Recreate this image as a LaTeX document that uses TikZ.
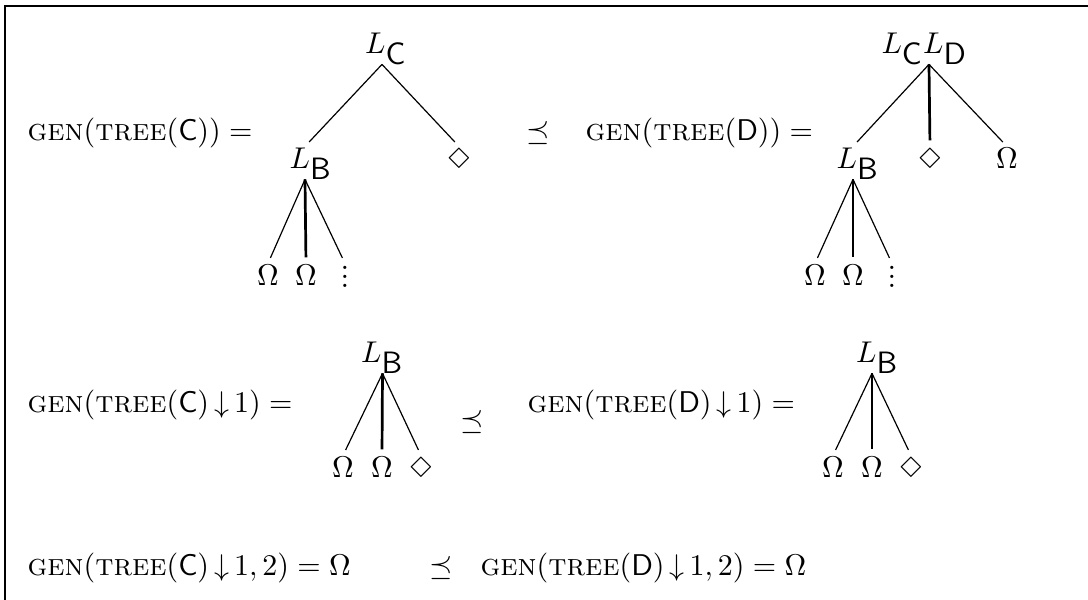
\documentclass[tikz,border=0pt]{standalone}
\usepackage{amssymb}
\usepackage{latexsym}
\usetikzlibrary{calc}
\newcommand{\sfl}[1]{L_{\mbox{\sffamily #1}}}
\newcommand{\dn}{\,{\downarrow}\,}
\newcommand{\myvdots}{\vbox{\baselineskip3pt\lineskiplimit0pt\hbox{.}\hbox{.}\hbox{.}}}
\begin{document}
\begin{tikzpicture}[x=0.33333pt,y=-0.33333pt,
  every node/.style={font=\fontsize{10.3}{12.4}\selectfont},
  txt/.style={inner sep=0pt,anchor=base west},
  lab/.style={inner sep=0pt,anchor=base,text height=7pt,text depth=3.6pt},
  leaf/.style={inner sep=0pt,anchor=base,text height=7pt,text depth=0pt},
  rel/.style={inner sep=0pt,anchor=base},
  edge/.style={line width=0.4pt,shorten >=2pt},
  bold/.style={line width=0.9pt,shorten >=2pt},
  frame/.style={line width=0.8pt}]
\useasboundingbox (0,0) rectangle (1088,599);
\draw[frame] (5,620) -- (5,6) -- (1100,6);

% ---- row 1 ----
\node[txt] (t1) at (27,140) {$\textsc{gen}(\textsc{tree}(\mathsf{C})) =$};
\node[rel] (p1) at (538,140) {$\preceq$};
\node[txt] (t2) at (585,140) {$\textsc{gen}(\textsc{tree}(\mathsf{D})) =$};

\node[lab] (lc) at (386,53) {$\sfl{C}$};
\node[lab] (lb1) at (311,168) {$\sfl{B}$};
\node[leaf] (d1) at (459,168) {$\Diamond$};
\node[leaf] (o1a) at (268,285) {$\Omega$};
\node[leaf] (o1b) at (306,285) {$\Omega$};
\node[leaf] (v1) at (345,287) {\myvdots};
\draw[edge] ($(lc.south)+(-4,0)$) -- ($(lb1.north)+(-6,0)$);
\draw[edge] ($(lc.south)+(-4,0)$) -- (d1.north);
\draw[edge] ($(lb1.south)+(-6,0)$) -- (o1a.north);
\draw[bold] ($(lb1.south)+(-6,0)$) -- (o1b.north);
\draw[edge] ($(lb1.south)+(-6,0)$) -- ($(v1.north)+(0,-2)$);

\node[lab] (lcd) at (924.5,53) {$\sfl{C}\sfl{D}$};
\node[lab] (lb2) at (858,168) {$\sfl{B}$};
\node[leaf] (d2) at (930,168) {$\Diamond$};
\node[leaf] (o2r) at (1007,168) {$\Omega$};
\node[leaf] (o2a) at (815,285) {$\Omega$};
\node[leaf] (o2b) at (853,285) {$\Omega$};
\node[leaf] (v2) at (892,287) {\myvdots};
\draw[edge] ($(lcd.south)+(4.5,0)$) -- ($(lb2.north)+(-5,0)$);
\draw[bold] ($(lcd.south)+(4.5,0)$) -- (d2.north);
\draw[edge] ($(lcd.south)+(4.5,0)$) -- (o2r.north);
\draw[edge] ($(lb2.south)+(-5,0)$) -- (o2a.north);
\draw[bold] ($(lb2.south)+(-5,0)$) -- (o2b.north);
\draw[edge] ($(lb2.south)+(-5,0)$) -- ($(v2.north)+(0,-2)$);

% ---- row 2 ----
\node[txt] (t3) at (27,412) {$\textsc{gen}(\textsc{tree}(\mathsf{C})\dn 1) =$};
\node[rel] (p2) at (472,429) {$\preceq$};
\node[txt] (t4) at (527,412) {$\textsc{gen}(\textsc{tree}(\mathsf{D})\dn 1) =$};

\node[lab] (lb3) at (382.5,362) {$\sfl{B}$};
\node[leaf] (o3a) at (343,477) {$\Omega$};
\node[leaf] (o3b) at (382,477) {$\Omega$};
\node[leaf] (d3) at (421,477) {$\Diamond$};
\draw[edge] (lb3.south) -- (o3a.north);
\draw[bold] (lb3.south) -- (o3b.north);
\draw[edge] (lb3.south) -- (d3.north);

\node[lab] (lb4) at (877.5,362) {$\sfl{B}$};
\node[leaf] (o4a) at (833,477) {$\Omega$};
\node[leaf] (o4b) at (872,477) {$\Omega$};
\node[leaf] (d4) at (911,477) {$\Diamond$};
\draw[edge] ($(lb4.south)+(-5.5,0)$) -- (o4a.north);
\draw[bold] ($(lb4.south)+(-5.5,0)$) -- (o4b.north);
\draw[edge] ($(lb4.south)+(-5.5,0)$) -- (d4.north);

% ---- row 3 ----
\node[txt] (t5) at (27,575) {$\textsc{gen}(\textsc{tree}(\mathsf{C})\dn 1,2) = \Omega$};
\node[rel] (p3) at (441,575) {$\preceq$};
\node[txt] (t6) at (480,575) {$\textsc{gen}(\textsc{tree}(\mathsf{D})\dn 1,2) = \Omega$};
\end{tikzpicture}
\end{document}
